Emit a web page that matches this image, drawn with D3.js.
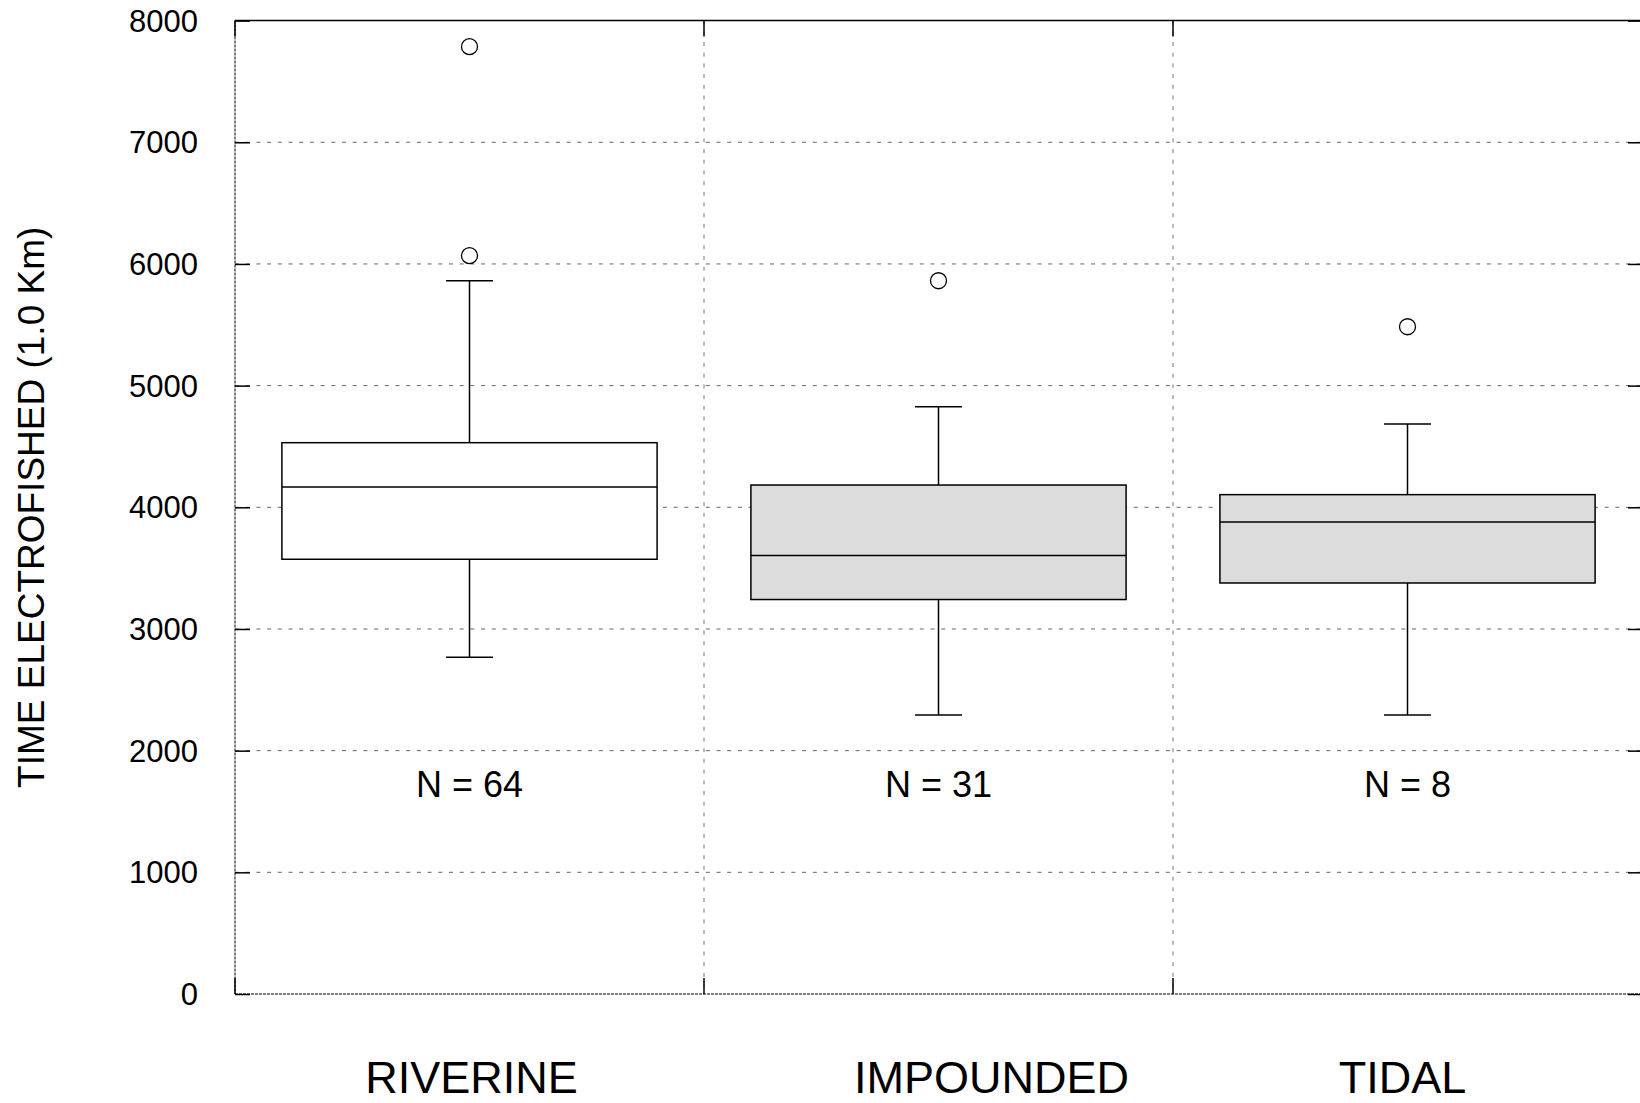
<!DOCTYPE html>
<html>
<head>
<meta charset="utf-8">
<script src="https://cdn.jsdelivr.net/npm/d3@7"></script>
<style>
  body { margin: 0; background: #fff; }
  text { font-family: "Liberation Sans", Arial, sans-serif; fill: #000; }
</style>
</head>
<body>
<script>
// data
const categories = ['RIVERINE', 'IMPOUNDED', 'TIDAL']
const counts = [64, 31, 8]
const whiskerLow = [2768, 2292, 2292]
const q1 = [3573, 3242, 3378]
const median = [4167, 3603, 3879]
const q3 = [4531, 4183, 4104]
const whiskerHigh = [5862, 4827, 4684]
const outliers = [[6068, 7786], [5862], [5484]]
const yTicks = [0, 1000, 2000, 3000, 4000, 5000, 6000, 7000, 8000]

var width = 1640,
    height = 1103
var margin = {left: 235, right: -2, top: 20.6, bottom: 109}
var fills = ['#ffffff', '#dbdcdb', '#dbdcdb']
var labelShift = [2, 53, -5]

var svg = d3.select('body').append('svg')
    .attr('width', width)
    .attr('height', height)

var x = d3.scaleBand()
    .domain(categories)
    .range([margin.left, width - margin.right])

var y = d3.scaleLinear()
    .domain([0, 8000])
    .range([height - margin.bottom, margin.top])

var x0 = margin.left, x1 = width - margin.right,
    y0 = y(0), y1 = y(8000)

// horizontal gridlines
svg.append('g').selectAll('line')
    .data(yTicks.slice(1, -1)).enter()
    .append('line')
    .attr('x1', x0).attr('x2', x1)
    .attr('y1', d => y(d)).attr('y2', d => y(d))
    .attr('stroke', '#666')
    .attr('stroke-dasharray', '4,6.7')

// vertical dividers between categories
svg.append('g').selectAll('line')
    .data(categories.slice(1)).enter()
    .append('line')
    .attr('x1', d => x(d)).attr('x2', d => x(d))
    .attr('y1', y1).attr('y2', y0)
    .attr('stroke', '#777')
    .attr('stroke-dasharray', '4,6.7')

// frame
svg.append('line')
    .attr('x1', x0).attr('x2', x1).attr('y1', y1).attr('y2', y1)
    .attr('stroke', '#000').attr('stroke-width', 1.5)
svg.append('line')
    .attr('x1', x0).attr('x2', x1).attr('y1', y0).attr('y2', y0)
    .attr('stroke', '#555').attr('stroke-width', 1.5).attr('stroke-dasharray', '3,1')
svg.append('line')
    .attr('x1', x0).attr('x2', x0).attr('y1', y1).attr('y2', y0)
    .attr('stroke', '#555').attr('stroke-width', 1.5).attr('stroke-dasharray', '3,1')
svg.append('line')
    .attr('x1', x1).attr('x2', x1).attr('y1', y1).attr('y2', y0)
    .attr('stroke', '#000').attr('stroke-width', 1.5)

// left axis with inward ticks
var yAxis = svg.append('g')
    .attr('transform', `translate(${x0},0)`)
    .call(d3.axisRight(y).tickValues(yTicks).tickSize(15).tickFormat(''))
yAxis.select('.domain').remove()
yAxis.selectAll('line').attr('stroke', '#000').attr('stroke-width', 1.5)

svg.append('g').selectAll('text')
    .data(yTicks).enter()
    .append('text')
    .attr('x', x0 - 37)
    .attr('y', d => y(d))
    .attr('dy', '0.36em')
    .attr('text-anchor', 'end')
    .style('font-size', '31px')
    .text(d => d)

// right axis ticks
var yAxisR = svg.append('g')
    .attr('transform', `translate(${x1},0)`)
    .call(d3.axisLeft(y).tickValues(yTicks).tickSize(14).tickFormat(''))
yAxisR.select('.domain').remove()
yAxisR.selectAll('line').attr('stroke', '#000').attr('stroke-width', 1.5)

// ticks at category boundaries on top and bottom
var bounds = categories.map(c => x(c))
svg.append('g').selectAll('line')
    .data(bounds).enter()
    .append('line')
    .attr('x1', d => d).attr('x2', d => d)
    .attr('y1', y0).attr('y2', y0 - 16)
    .attr('stroke', '#000').attr('stroke-width', 1.5)
svg.append('g').selectAll('line')
    .data(bounds).enter()
    .append('line')
    .attr('x1', d => d).attr('x2', d => d)
    .attr('y1', y1).attr('y2', y1 + 16)
    .attr('stroke', '#000').attr('stroke-width', 1.5)

// boxes
var boxW = x.bandwidth() * 0.8,
    capW = x.bandwidth() * 0.1

var box = svg.append('g').selectAll('g')
    .data(categories).enter()
    .append('g')
    .attr('transform', d => `translate(${x(d) + x.bandwidth() / 2},0)`)

box.append('line')
    .attr('x1', 0).attr('x2', 0)
    .attr('y1', (d, i) => y(whiskerLow[i]))
    .attr('y2', (d, i) => y(whiskerHigh[i]))
    .attr('stroke', '#000').attr('stroke-width', 1.5)

box.append('line')
    .attr('x1', -capW / 2).attr('x2', capW / 2)
    .attr('y1', (d, i) => y(whiskerLow[i]))
    .attr('y2', (d, i) => y(whiskerLow[i]))
    .attr('stroke', '#000').attr('stroke-width', 1.5)

box.append('line')
    .attr('x1', -capW / 2).attr('x2', capW / 2)
    .attr('y1', (d, i) => y(whiskerHigh[i]))
    .attr('y2', (d, i) => y(whiskerHigh[i]))
    .attr('stroke', '#000').attr('stroke-width', 1.5)

box.append('rect')
    .attr('x', -boxW / 2)
    .attr('width', boxW)
    .attr('y', (d, i) => y(q3[i]))
    .attr('height', (d, i) => y(q1[i]) - y(q3[i]))
    .attr('fill', (d, i) => fills[i])
    .attr('stroke', '#000').attr('stroke-width', 1.5)

box.append('line')
    .attr('x1', -boxW / 2).attr('x2', boxW / 2)
    .attr('y1', (d, i) => y(median[i]))
    .attr('y2', (d, i) => y(median[i]))
    .attr('stroke', '#000').attr('stroke-width', 1.5)

box.selectAll('circle')
    .data((d, i) => outliers[i]).enter()
    .append('circle')
    .attr('cx', 0)
    .attr('cy', d => y(d))
    .attr('r', 8)
    .attr('fill', '#fff')
    .attr('stroke', '#000').attr('stroke-width', 1.3)

box.append('text')
    .attr('x', 0)
    .attr('y', y(2000) + 46)
    .attr('text-anchor', 'middle')
    .style('font-size', '36px')
    .text((d, i) => 'N = ' + counts[i])

// category labels
svg.append('g').selectAll('text')
    .data(categories).enter()
    .append('text')
    .attr('x', (d, i) => x(d) + x.bandwidth() / 2 + labelShift[i])
    .attr('y', 1093)
    .attr('text-anchor', 'middle')
    .style('font-size', '45px')
    .text(d => d)

// y title
svg.append('text')
    .attr('transform', `translate(44,${(y0 + y1) / 2}) rotate(-90)`)
    .attr('text-anchor', 'middle')
    .style('font-size', '37px')
    .text('TIME ELECTROFISHED (1.0 Km)')
</script>
</body>
</html>
